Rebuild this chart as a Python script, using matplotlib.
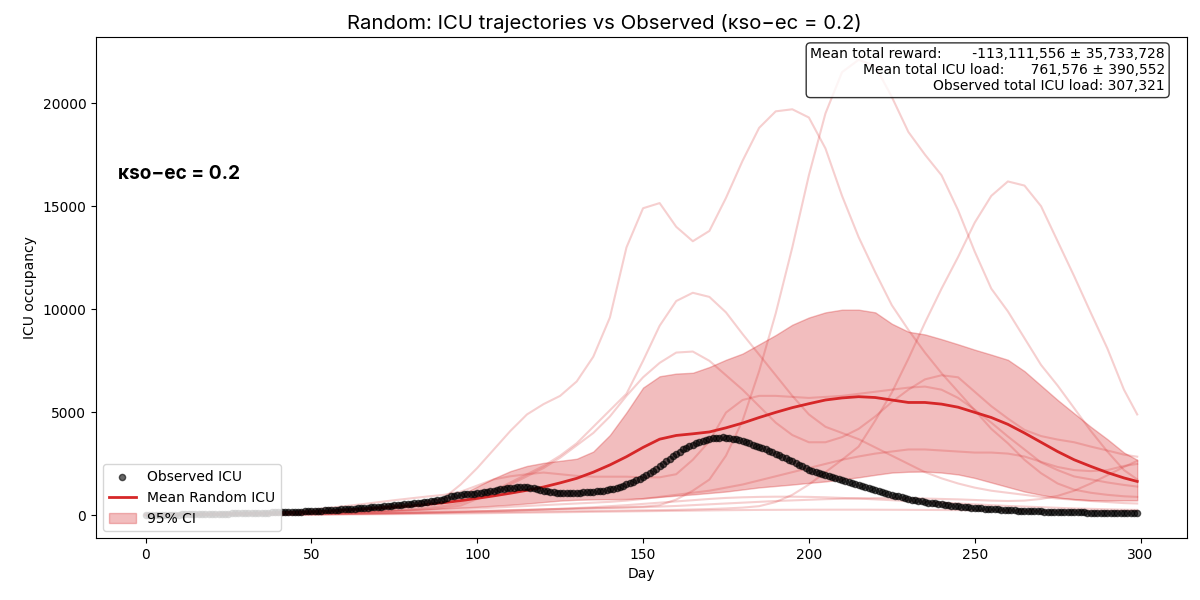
import matplotlib
matplotlib.use("Agg")
import matplotlib.pyplot as plt
import numpy as np

# ---------------- data ----------------
days_obs = list(range(0, 300))
observed_icu = [
    20, 22, 25, 27, 30, 32, 35, 37, 40, 42,
    45, 48, 50, 53, 56, 59, 62, 65, 68, 72,
    75, 78, 82, 85, 89, 92, 96, 100, 104, 108,
    112, 116, 120, 124, 128, 132, 136, 140, 144, 148,
    152, 150, 158, 165, 172, 178, 185, 190, 196, 202,
    210, 218, 226, 235, 243, 252, 260, 270, 280, 290,
    300, 310, 320, 332, 344, 356, 368, 380, 393, 405,
    418, 432, 446, 460, 475, 490, 505, 520, 535, 550,
    565, 580, 598, 615, 635, 655, 680, 705, 735, 770,
    820, 870, 920, 960, 990, 1010, 1020, 1030, 1040, 1050,
    1080, 1100, 1120, 1150, 1180, 1210, 1240, 1270, 1290, 1310,
    1330, 1350, 1370, 1390, 1400, 1380, 1350, 1320, 1280, 1240,
    1200, 1170, 1140, 1120, 1110, 1100, 1100, 1095, 1100, 1100,
    1105, 1110, 1120, 1130, 1140, 1150, 1165, 1185, 1210, 1235,
    1260, 1300, 1340, 1390, 1450, 1510, 1570, 1630, 1700, 1770,
    1850, 1940, 2040, 2150, 2260, 2380, 2500, 2620, 2740, 2870,
    2990, 3100, 3200, 3290, 3370, 3440, 3510, 3570, 3620, 3670,
    3710, 3740, 3760, 3780, 3790, 3780, 3760, 3730, 3690, 3650,
    3600, 3550, 3500, 3440, 3390, 3330, 3270, 3200, 3130, 3060,
    2990, 2920, 2850, 2780, 2700, 2620, 2540, 2460, 2380, 2300,
    2220, 2170, 2120, 2070, 2020, 1970, 1920, 1870, 1820, 1770,
    1720, 1670, 1620, 1570, 1530, 1490, 1440, 1390, 1340, 1290,
    1240, 1190, 1140, 1090, 1040, 1000, 960, 920, 880, 840,
    800, 770, 740, 710, 680, 650, 625, 600, 580, 560,
    540, 520, 500, 480, 460, 440, 420, 405, 390, 375,
    360, 350, 340, 330, 320, 310, 300, 290, 280, 270,
    262, 255, 248, 240, 232, 225, 218, 212, 206, 200,
    195, 190, 185, 180, 176, 172, 168, 164, 160, 157,
    154, 151, 148, 145, 142, 140, 138, 136, 134, 132,
    130, 128, 126, 124, 122, 120, 118, 116, 114, 112,
]

days_sim = list(range(0, 300, 5)) + [299]

traj_1 = [30, 40, 50, 60, 70, 80, 95, 110, 125, 145,
          170, 200, 235, 275, 320, 380, 460, 600, 850, 1500,
          2300, 3200, 4100, 4900, 5400, 5800, 6500, 7700, 9600, 13000,
          14900, 15150, 14000, 13300, 13800, 15400, 17200, 18800, 19600, 19700,
          19300, 17800, 15500, 13500, 11800, 10200, 9000, 7900, 6900, 6000,
          5100, 4200, 3500, 2700, 2050, 1550, 1250, 1100, 1000, 930,
          900]
traj_2 = [20, 25, 30, 35, 40, 45, 50, 55, 60, 70,
          80, 90, 100, 110, 120, 135, 150, 165, 180, 200,
          220, 240, 260, 280, 300, 320, 340, 360, 380, 400,
          430, 500, 770, 1200, 1740, 2900, 4600, 7000, 9800, 13000,
          16500, 19500, 21500, 22100, 21800, 20300, 18600, 17500, 16500, 14800,
          12800, 11000, 9900, 8600, 7300, 6300, 5200, 4100, 3100, 2200,
          1750]
traj_3 = [20, 22, 25, 28, 30, 33, 36, 40, 45, 50,
          55, 60, 70, 80, 90, 100, 110, 120, 130, 140,
          150, 160, 170, 180, 190, 200, 210, 220, 230, 240,
          250, 260, 270, 290, 310, 340, 380, 450, 650, 1000,
          1500, 2100, 2700, 3340, 4600, 5960, 7600, 9350, 11000, 12540,
          14200, 15500, 16200, 16000, 15000, 13300, 11600, 9830, 8100, 6100,
          4900]
traj_4 = [25, 30, 35, 40, 48, 55, 65, 75, 88, 100,
          115, 135, 155, 180, 210, 250, 300, 370, 460, 600,
          900, 1200, 1600, 2000, 2400, 2900, 3500, 4300, 5100, 5900,
          7500, 9200, 10400, 10800, 10600, 9850, 8800, 7800, 6800, 5800,
          4900, 4300, 4000, 3700, 3300, 2900, 2500, 2100, 1800, 1550,
          1350, 1200, 1100, 1000, 900, 820, 760, 700, 650, 600,
          580]
traj_5 = [20, 25, 30, 36, 42, 50, 58, 68, 80, 92,
          105, 120, 140, 160, 185, 215, 250, 300, 370, 480,
          800, 1100, 1500, 1900, 2300, 2800, 3400, 4000, 4800, 5800,
          6700, 7400, 7900, 7950, 7500, 6800, 6100, 5300, 4500, 3900,
          3550, 3550, 3800, 4200, 4800, 5500, 6100, 6600, 6800, 6700,
          6000, 5300, 4700, 4150, 3850, 3680, 3550, 3340, 3150, 2950,
          2850]
traj_6 = [30, 40, 50, 60, 75, 90, 110, 130, 160, 210,
          280, 360, 450, 540, 640, 740, 830, 920, 1000, 1150,
          1450, 1750, 1900, 2000, 2080, 2000, 1920, 1880, 1880, 1880,
          1850, 1850, 2000, 2700, 3600, 4990, 5600, 5800, 5800, 5750,
          5700, 5750, 5800, 5900, 6000, 6100, 6200, 6250, 6100, 5700,
          5130, 4500, 3830, 3200, 2570, 2200, 1890, 1750, 1600, 1480,
          1400]
traj_7 = [20, 24, 28, 32, 36, 40, 46, 52, 60, 70,
          80, 95, 110, 130, 150, 175, 200, 230, 260, 300,
          340, 380, 420, 460, 500, 540, 580, 620, 660, 720,
          800, 900, 1000, 1100, 1200, 1350, 1500, 1700, 1900, 2100,
          2300, 2500, 2700, 2860, 3000, 3100, 3200, 3200, 3150, 3100,
          3050, 3050, 3000, 2860, 2600, 2350, 2200, 2150, 2200, 2400,
          2500]
traj_8 = [15, 18, 22, 26, 30, 34, 38, 42, 48, 55,
          62, 70, 80, 90, 100, 115, 130, 145, 160, 180,
          200, 220, 240, 260, 280, 300, 320, 340, 360, 380,
          400, 430, 460, 500, 540, 580, 620, 660, 700, 730,
          760, 790, 810, 830, 840, 840, 830, 820, 800, 780,
          750, 720, 700, 720, 800, 950, 1200, 1550, 1950, 2350,
          2650]
traj_9 = [15, 17, 20, 23, 26, 30, 34, 38, 42, 48,
          55, 62, 70, 80, 90, 100, 115, 130, 150, 170,
          190, 210, 230, 260, 290, 320, 360, 400, 450, 500,
          560, 620, 680, 740, 800, 850, 880, 900, 910, 910,
          900, 880, 850, 820, 780, 740, 700, 660, 620, 580,
          540, 500, 460, 430, 400, 370, 340, 320, 300, 280,
          270]
traj_10 = [10, 12, 14, 16, 18, 20, 23, 26, 30, 34,
           38, 42, 47, 52, 58, 64, 70, 78, 86, 95,
           105, 115, 125, 135, 145, 155, 165, 175, 185, 195,
           205, 215, 225, 235, 245, 255, 262, 268, 272, 275,
           278, 280, 280, 280, 278, 275, 272, 268, 264, 260,
           255, 250, 245, 240, 235, 230, 225, 220, 215, 210,
           205]

mean_icu = [30, 40, 50, 60, 70, 85, 100, 115, 135, 155,
            180, 205, 270, 310, 360, 410, 470, 540, 620, 720,
            830, 950, 1080, 1220, 1380, 1580, 1800, 2100, 2450, 2850,
            3300, 3700, 3880, 3960, 4050, 4250, 4480, 4750, 5000, 5230,
            5420, 5600, 5700, 5760, 5720, 5600, 5480, 5480, 5400, 5250,
            5000, 4750, 4420, 4000, 3550, 3100, 2700, 2380, 2080, 1820,
            1650]
ci_upper = [40, 50, 65, 80, 95, 110, 130, 150, 175, 200,
            240, 280, 330, 390, 460, 540, 630, 740, 870, 1020,
            1400, 1800, 2150, 2400, 2550, 2650, 2750, 3100, 3900, 5000,
            6200, 6750, 6880, 6920, 7200, 7550, 7850, 8300, 8750, 9250,
            9600, 9850, 9980, 9980, 9850, 9300, 8910, 8780, 8550, 8300,
            8040, 7800, 7550, 7000, 6300, 5600, 4950, 4300, 3700, 3050,
            2700]
ci_lower = [20, 30, 40, 45, 55, 65, 75, 85, 100, 115,
            130, 150, 170, 190, 215, 240, 270, 300, 340, 380,
            420, 470, 520, 580, 650, 720, 760, 780, 790, 800,
            840, 900, 960, 1020, 1090, 1160, 1260, 1360, 1430, 1500,
            1580, 1650, 1750, 1850, 1970, 2080, 2120, 2130, 2080, 1990,
            1820, 1600, 1380, 1160, 1000, 870, 790, 740, 730, 730,
            730]

trajectories = [traj_1, traj_2, traj_3, traj_4, traj_5,
                traj_6, traj_7, traj_8, traj_9, traj_10]

summary_text = ("Mean total reward:       -113,111,556 \u00b1 35,733,728\n"
                "Mean total ICU load:      761,576 \u00b1 390,552\n"
                "Observed total ICU load: 307,321")
title_text = "Random: ICU trajectories vs Observed (\u03baso\u2212ec = 0.2)"
kappa_text = "\u03baso\u2212ec = 0.2"

# ---------------- plot ----------------
RED = "#d62728"
fig = plt.figure(figsize=(12, 6), dpi=100)
ax = fig.add_axes([0.08, 0.1033, 0.909, 0.835])

for tr in trajectories:
    ax.plot(days_sim, tr, color=RED, alpha=0.22, lw=1.5, zorder=1)

ax.fill_between(days_sim, ci_lower, ci_upper, color=RED, alpha=0.3,
                label="95% CI", zorder=2)
ax.plot(days_sim, mean_icu, color=RED, lw=2, label="Mean Random ICU", zorder=3)
ax.scatter(days_obs, observed_icu, s=20, color="k", alpha=0.6,
           label="Observed ICU", zorder=4)

fam = ["Inter", "DejaVu Sans"]
fig.text(0.504, 1 - 29 / 600, title_text, fontsize=14.65, fontfamily=fam,
         ha="center", va="baseline")
ax.set_xlabel("Day")
ax.set_ylabel("ICU occupancy")

ax.text(0.0202, 0.716, kappa_text, transform=ax.transAxes, fontsize=13.7,
        fontweight="bold", fontfamily=fam, ha="left", va="baseline")

ax.text(0.98, 0.98, summary_text, transform=ax.transAxes, ha="right",
        va="top", fontsize=10,
        bbox=dict(boxstyle="round", facecolor="white", alpha=0.8))

handles, labels = ax.get_legend_handles_labels()
order = [labels.index("Observed ICU"), labels.index("Mean Random ICU"),
         labels.index("95% CI")]
ax.legend([handles[i] for i in order], [labels[i] for i in order],
          loc="lower left", fontsize=10)

fig.savefig("out.png", dpi=100)
